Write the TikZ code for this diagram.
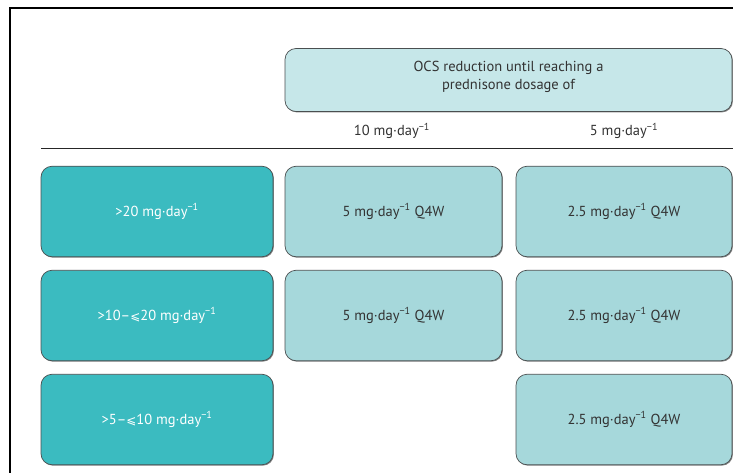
\documentclass[tikz,border=0pt]{standalone}
\usepackage{fontspec}
\setmainfont{PT Sans}
\newfontfamily\symfont{DejaVu Sans}
\usetikzlibrary{shadows}

\definecolor{dosedark}{HTML}{3BBBC0}
\definecolor{doselight}{HTML}{A6D8DB}
\definecolor{headfill}{HTML}{C6E7E9}
\definecolor{boxedge}{HTML}{4A4F50}
\definecolor{inktext}{HTML}{333333}

\newcommand{\mgday}{mg·day\textsuperscript{−1}}
\newcommand{\leqs}{{\symfont\fontsize{12}{14}\selectfont ⩽}}

\tikzset{
  dosefont/.style={font=\fontsize{14.5}{18}\selectfont},
  dosebox/.style={draw=boxedge, line width=0.7pt, rounded corners=11pt,
    inner sep=0pt, minimum height=90.5pt, align=center, dosefont,
    drop shadow={shadow xshift=0.9pt, shadow yshift=-0.9pt, fill=black!60, opacity=0.8}},
  startbox/.style={dosebox, fill=dosedark, text=white, minimum width=232pt},
  midbox/.style={dosebox, fill=doselight, text=inktext, minimum width=217pt},
  endbox/.style={dosebox, fill=doselight, text=inktext, minimum width=216pt},
  headbox/.style={dosebox, fill=headfill, text=inktext, minimum width=447pt, minimum height=63pt},
  collabel/.style={text=inktext, dosefont, inner sep=0pt}
}

\begin{document}
\begin{tikzpicture}[x=1pt, y=-1pt]
  \useasboundingbox (0,0) rectangle (733,473);
  \fill[white] (0,0) rectangle (733,473);

  % outer frame (top and left edges)
  \draw[line width=2pt, line cap=rect] (10,473) -- (10,8) -- (733,8);

  % header
  \node[headbox] (head) at (508.5,80) {};
  \node[text=inktext, dosefont, align=center, inner sep=0pt]
    (headtext) at (508.5,76.5) {OCS reduction until reaching a\\prednisone dosage of};
  \node[collabel] (col10) at (392,131) {10 \mgday};
  \node[collabel] (col5) at (624,131) {5 \mgday};

  % separator
  \coordinate (sepL) at (41,148.5);
  \coordinate (sepR) at (733,148.5);
  \draw[line width=1.1pt, draw=black!85] (sepL) -- (sepR);

  % starting doses
  \node[startbox] (s1) at (157,211.5) {>20 \mgday};
  \node[startbox] (s2) at (157,315.5) {>10–\leqs20 \mgday};
  \node[startbox] (s3) at (157,419.5) {>5–\leqs10 \mgday};

  % reduction to 10 mg/day
  \node[midbox] (m1) at (393.5,211.5) {5 \mgday{} Q4W};
  \node[midbox] (m2) at (393.5,315.5) {5 \mgday{} Q4W};

  % reduction to 5 mg/day
  \node[endbox] (e1) at (624,211.5) {2.5 \mgday{} Q4W};
  \node[endbox] (e2) at (624,315.5) {2.5 \mgday{} Q4W};
  \node[endbox] (e3) at (624,419.5) {2.5 \mgday{} Q4W};
\end{tikzpicture}
\end{document}
